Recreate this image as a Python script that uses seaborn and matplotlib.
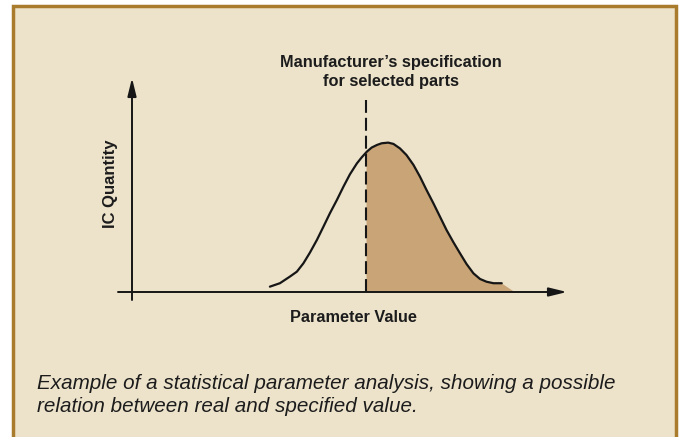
import numpy as np
import pandas as pd
import matplotlib
matplotlib.use("Agg")
import matplotlib.pyplot as plt
from matplotlib.patches import Rectangle
import seaborn as sns

# curve (parameter value, IC quantity), arbitrary units 0..100
param_value = [31.7, 34.0, 36.3, 37.9, 39.4, 40.9, 42.5, 44.0, 45.5, 47.1,
               48.6, 50.1, 51.7, 52.8, 54.0, 55.1, 56.3, 57.4, 58.9, 60.1,
               61.6, 63.1, 64.7, 66.2, 67.7, 69.3, 70.8, 72.3, 73.9, 75.4,
               76.9, 78.5, 80.0, 81.5, 83.1, 85.0]
ic_quantity = [2.5, 4.1, 7.2, 9.5, 13.4, 18.4, 24.3, 30.5, 36.8, 43.0,
               49.2, 55.0, 60.1, 62.9, 65.6, 67.5, 68.7, 69.5, 69.8, 69.2,
               67.1, 64.0, 59.4, 53.9, 47.7, 41.4, 35.2, 29.0, 23.2, 18.1,
               13.1, 8.7, 6.1, 4.8, 4.1, 4.1]
spec_value = 53.8
spec_top = 89.7
fill_tail = 88.0

spec_label = "Manufacturer\u2019s specification\nfor selected parts"
x_label = "Parameter Value"
y_label = "IC Quantity"
caption = ("Example of a statistical parameter analysis, showing a possible\n"
           "relation between real and specified value.")

sns.set_theme(style="white")
plt.rcParams['font.family'] = ['Liberation Sans', 'DejaVu Sans']

W, H = 684, 437
fig = plt.figure(figsize=(W / 100, H / 100), dpi=100)
fig.patch.set_facecolor("white")

# frame
frame = Rectangle((12.5 / W, -0.05), (676 - 12.5) / W, 1.05 - 6 / H,
                  transform=fig.transFigure, facecolor="#ede3cb",
                  edgecolor="#a97b2c", linewidth=2.5, zorder=-5)
fig.patches.append(frame)

# axes: data 0 -> px 132 / 292, 100 -> px 567 / 78
sx = (567 - 132) / 100
sy = (292 - 78) / 100
ax = fig.add_axes([0, 0, 1, 1], zorder=2)
ax.set_xlim(-132 / sx, (W - 132) / sx)
ax.set_ylim((292 - H) / sy, 292 / sy)
ax.axis("off")
ax.patch.set_alpha(0)

df = pd.DataFrame({"x": param_value, "y": ic_quantity})

# shaded part right of the specification
right = df[df.x > spec_value]
spec_y = np.interp(spec_value, df.x, df.y)
fx = [spec_value] + list(right.x) + [fill_tail]
fy = [spec_y] + list(right.y) + [0]
ax.fill_between(fx, fy, 0, color="#c8a476", linewidth=0, zorder=1)

sns.lineplot(data=df, x="x", y="y", ax=ax, color="#161616", linewidth=1.6,
             sort=False, zorder=3)

ax.plot([spec_value, spec_value], [0, spec_top], color="#161616",
        linewidth=1.5, dashes=(6.2, 2.4), zorder=4)

# axes with arrows
arrow = dict(arrowstyle="-|>,head_length=0.9,head_width=0.22",
             color="#161616", linewidth=1.4, shrinkA=0, shrinkB=0)
ax.annotate("", xy=(100, 0), xytext=(-14 / sx, 0), arrowprops=arrow)
ax.annotate("", xy=(0, 100), xytext=(0, -8 / sy), arrowprops=arrow)

ink = "#1c1c1c"
fig.text(391 / W, 1 - 72 / H, spec_label, ha="center", va="center",
         fontsize=11.8, fontweight="bold", color=ink, linespacing=1.35,
         multialignment="center", zorder=5)
fig.text(353 / W, 1 - 318 / H, x_label, ha="center", va="center",
         fontsize=11.7, fontweight="bold", color=ink, zorder=5)
fig.text(111 / W, 1 - 184 / H, y_label, ha="center", va="center",
         fontsize=12, fontweight="bold", color=ink, rotation=90, zorder=5)
fig.text(37 / W, 1 - 395 / H, caption, ha="left", va="center",
         fontsize=14.9, style="italic", color=ink, linespacing=1.25, zorder=5)

fig.savefig("out.png", dpi=100, facecolor=fig.get_facecolor())
